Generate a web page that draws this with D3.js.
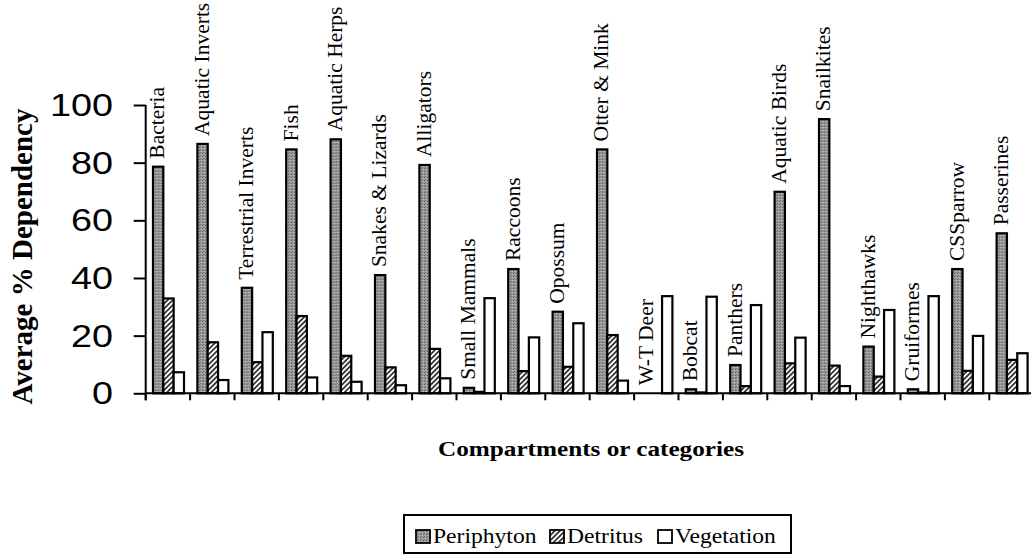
<!DOCTYPE html>
<html>
<head>
<meta charset="utf-8">
<script src="https://cdn.jsdelivr.net/npm/d3@7"></script>
<style>
  html, body { margin: 0; padding: 0; background: #fff; }
  svg { display: block; }
  .serif { font-family: "Liberation Serif", "Times New Roman", Times, "DejaVu Serif", serif; }
  .sans  { font-family: "Liberation Sans", Arial, Helvetica, sans-serif; }
</style>
</head>
<body>
<div id="chart"></div>
<script>
// Average % dependency of each food-web compartment on three energy sources
const categories = [
  "Bacteria", "Aquatic Inverts", "Terrestrial Inverts", "Fish", "Aquatic Herps",
  "Snakes & Lizards", "Alligators", "Small Mammals", "Raccoons", "Opossum",
  "Otter & Mink", "W-T Deer", "Bobcat", "Panthers", "Aquatic Birds",
  "Snailkites", "Nighthawks", "Gruiformes", "CSSparrow", "Passerines"
];
const periphyton = [78.6, 86.5, 36.6, 84.6, 88.1, 41.0, 79.2, 1.9, 43.1, 28.3,
                    84.6, 0, 1.4, 9.8, 69.9, 95.1, 16.2, 1.4, 43.1, 55.5];
const detritus   = [32.9, 17.7, 10.8, 26.8, 13.0, 9.0, 15.4, 0.5, 7.7, 9.2,
                    20.2, 0, 0.3, 2.5, 10.4, 9.6, 5.8, 0.3, 7.8, 11.6];
const vegetation = [7.3, 4.6, 21.2, 5.5, 4.0, 2.8, 5.2, 33.0, 19.4, 24.3,
                    4.4, 33.7, 33.5, 30.6, 19.3, 2.5, 28.9, 33.7, 19.9, 13.9];
const seriesNames = ["Periphyton", "Detritus", "Vegetation"];
const yTicks = [0, 20, 40, 60, 80, 100];
const yTitle = "Average % Dependency";
const xTitle = "Compartments or categories";

const W = 1031, H = 555;
const svg = d3.select("#chart").append("svg")
  .attr("width", W).attr("height", H)
  .style("overflow", "hidden");

// fills: stippled grey, diagonal hatch, plain white
const defs = svg.append("defs");
const stip = defs.append("pattern").attr("id", "stipple")
  .attr("patternUnits", "userSpaceOnUse").attr("width", 3).attr("height", 3);
stip.append("rect").attr("width", 3).attr("height", 3).attr("fill", "#9a9a9a");
stip.append("rect").attr("x", 0).attr("y", 0).attr("width", 1).attr("height", 1).attr("fill", "#5c5c5c");
stip.append("rect").attr("x", 2).attr("y", 1).attr("width", 1).attr("height", 1).attr("fill", "#c4c4c4");
stip.append("rect").attr("x", 1).attr("y", 2).attr("width", 1).attr("height", 1).attr("fill", "#727272");

const hatch = defs.append("pattern").attr("id", "hatch")
  .attr("patternUnits", "userSpaceOnUse").attr("width", 3.6).attr("height", 3.6)
  .attr("patternTransform", "rotate(45)");
hatch.append("rect").attr("width", 3.6).attr("height", 3.6).attr("fill", "#fff");
hatch.append("rect").attr("width", 1.7).attr("height", 3.6).attr("fill", "#2a2a2a");

const fills = { "Periphyton": "url(#stipple)", "Detritus": "url(#hatch)", "Vegetation": "#fff" };
const values = { "Periphyton": periphyton, "Detritus": detritus, "Vegetation": vegetation };

const x0 = 145.7, step = 44.4;
const x = d3.scaleBand().domain(categories).range([x0, x0 + step * categories.length]).padding(0);
const xs = d3.scaleBand().domain(seriesNames).range([7.3, 38.3]).padding(0);
const y = d3.scaleLinear().domain([0, 100]).range([393.3, 105]);

// bars
const groups = svg.append("g").selectAll("g")
  .data(categories).join("g")
  .attr("transform", d => `translate(${x(d)},0)`);

seriesNames.forEach(s => {
  groups.append("rect")
    .attr("x", xs(s))
    .attr("width", xs.bandwidth())
    .attr("y", (d, i) => y(values[s][i]))
    .attr("height", (d, i) => y(0) - y(values[s][i]))
    .attr("fill", fills[s])
    .attr("stroke", "#000")
    .attr("stroke-width", 2.2);
});

// rotated category names above the periphyton bar
groups.append("text")
  .attr("class", "serif")
  .attr("transform", (d, i) =>
    `translate(${xs("Periphyton") + xs.bandwidth() + 1},${y(periphyton[i]) - 8}) rotate(-90)`)
  .attr("font-size", 21.5)
  .attr("fill", "#000")
  .text(d => d);

// y axis
const yAxis = d3.axisLeft(y).tickValues(yTicks).tickSize(12).tickFormat("");
const gy = svg.append("g").attr("transform", `translate(${x0},0)`).call(yAxis);
gy.select(".domain").attr("d", `M0,${y(100)}V${y(0) + 7}`).attr("stroke-width", 2);
gy.selectAll(".tick line").attr("stroke-width", 2);

// y tick labels, slightly widened sans digits
svg.append("g").selectAll("g").data(yTicks).join("g")
  .attr("transform", d => `translate(113,${y(d) + 11}) scale(1.22,1)`)
  .append("text")
  .attr("class", "sans")
  .attr("text-anchor", "end")
  .attr("font-size", 31)
  .attr("fill", "#000")
  .text(d => d);

// x axis with ticks at category boundaries
const boundaries = categories.map(c => x(c));
const gx = svg.append("g").attr("transform", `translate(0,${y(0)})`);
gx.append("line").attr("x1", x0).attr("x2", x0 + step * categories.length)
  .attr("stroke", "#000").attr("stroke-width", 2);
gx.selectAll("line.tk").data(boundaries).join("line").attr("class", "tk")
  .attr("x1", d => d).attr("x2", d => d).attr("y1", 0).attr("y2", 7)
  .attr("stroke", "#000").attr("stroke-width", 2);

// axis titles
svg.append("text")
  .attr("class", "serif")
  .attr("transform", `translate(32,256.5) rotate(-90)`)
  .attr("text-anchor", "middle")
  .attr("font-weight", "bold")
  .attr("font-size", 29)
  .text(yTitle);

svg.append("g").attr("transform", "translate(591,456) scale(1.2,1)")
  .append("text")
  .attr("class", "serif")
  .attr("text-anchor", "middle")
  .attr("font-weight", "bold")
  .attr("font-size", 21)
  .text(xTitle);

// legend
const legend = svg.append("g");
legend.append("rect").attr("x", 404).attr("y", 515).attr("width", 387).attr("height", 38)
  .attr("fill", "#fff").attr("stroke", "#000").attr("stroke-width", 2);
const legendX = { "Periphyton": 416, "Detritus": 550, "Vegetation": 658 };
seriesNames.forEach(s => {
  legend.append("rect").attr("x", legendX[s]).attr("y", 530).attr("width", 14).attr("height", 13)
    .attr("fill", fills[s]).attr("stroke", "#000").attr("stroke-width", 1.8);
  legend.append("g").attr("transform", `translate(${legendX[s] + 17},543) scale(1.18,1)`)
    .append("text")
    .attr("class", "serif")
    .attr("font-size", 20)
    .text(s);
});
</script>
</body>
</html>
